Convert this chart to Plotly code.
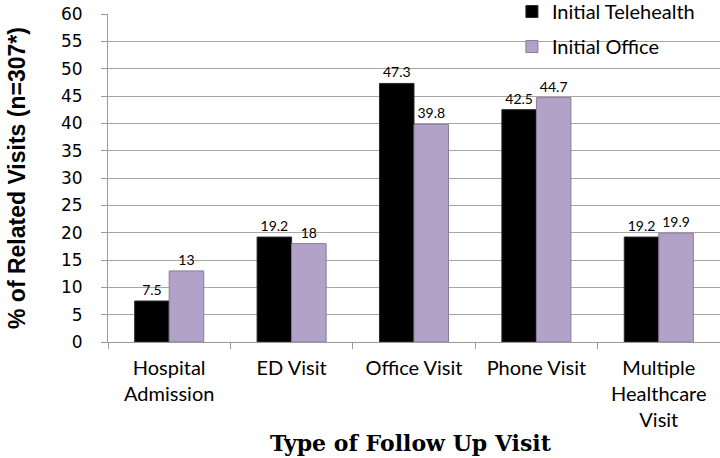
import plotly.graph_objects as go

categories = ["Hospital<br>Admission", "ED Visit", "Office Visit", "Phone Visit", "Multiple<br>Healthcare<br>Visit"]
telehealth = [7.5, 19.2, 47.3, 42.5, 19.2]
office = [13, 18, 39.8, 44.7, 19.9]
y_ticks = list(range(0, 61, 5))

fig = go.Figure()
fig.add_trace(go.Bar(
    x=categories, y=telehealth, name="Initial Telehealth",
    marker=dict(color="#000000", line=dict(color="#2a2a2a", width=1)),
    text=[str(v) for v in telehealth], textposition="outside",
    textfont=dict(size=14, color="#000000", family="Lato"), cliponaxis=False,
    legendgroup="a",
))
fig.add_trace(go.Bar(
    x=categories, y=office, name="Initial Office",
    marker=dict(color="#B3A2C7", line=dict(color="#8a7a9c", width=1)),
    text=[str(v) for v in office], textposition="outside",
    textfont=dict(size=14, color="#000000", family="Lato"), cliponaxis=False,
    legendgroup="b",
))

fig.update_layout(
    width=720, height=458,
    margin=dict(l=108, r=0, t=14, b=116, autoexpand=False),
    paper_bgcolor="white", plot_bgcolor="white",
    barmode="group", bargap=0.436, bargroupgap=0,
    showlegend=True,
    legend=dict(x=0.66, y=1.067, xanchor="left", yanchor="top",
                font=dict(family="Lato", size=20, color="#000000"),
                bgcolor="rgba(255,255,255,0)", tracegroupgap=6),
    xaxis=dict(
        automargin=False,
        tickfont=dict(family="Lato", size=20, color="#000000"),
        showline=True, linecolor="#9a9a9a", linewidth=1,
        ticks="outside", ticklen=6, tickcolor="#9a9a9a",
        showgrid=False, tickson="boundaries", ticklabelstandoff=8,
    ),
    yaxis=dict(
        automargin=False,
        range=[0, 60], tickvals=y_ticks,
        tickfont=dict(family="DejaVu Sans", size=17, color="#000000"),
        showline=True, linecolor="#9a9a9a", linewidth=1,
        ticks="outside", ticklen=6, tickcolor="#9a9a9a",
        showgrid=True, gridcolor="#a6a6a6", gridwidth=1,
        zeroline=False, ticklabelstandoff=15,
    ),
    annotations=[
        dict(text="<b>% of Related Visits (n=307*)</b>", xref="paper", yref="paper",
             x=0, y=0.5, xshift=-91, xanchor="center", yanchor="middle",
             textangle=-90, showarrow=False,
             font=dict(family="Liberation Sans, Arial", size=23, color="#000000")),
        dict(text="<b>Type of Follow Up Visit</b>", xref="paper", yref="paper",
             x=0.495, y=0, yshift=-101, xanchor="center", yanchor="middle",
             showarrow=False,
             font=dict(family="DejaVu Serif", size=22, color="#000000")),
    ],
)

fig.write_html("out.html", config={"displayModeBar": False},
               post_script="document.body.style.margin='0';")
